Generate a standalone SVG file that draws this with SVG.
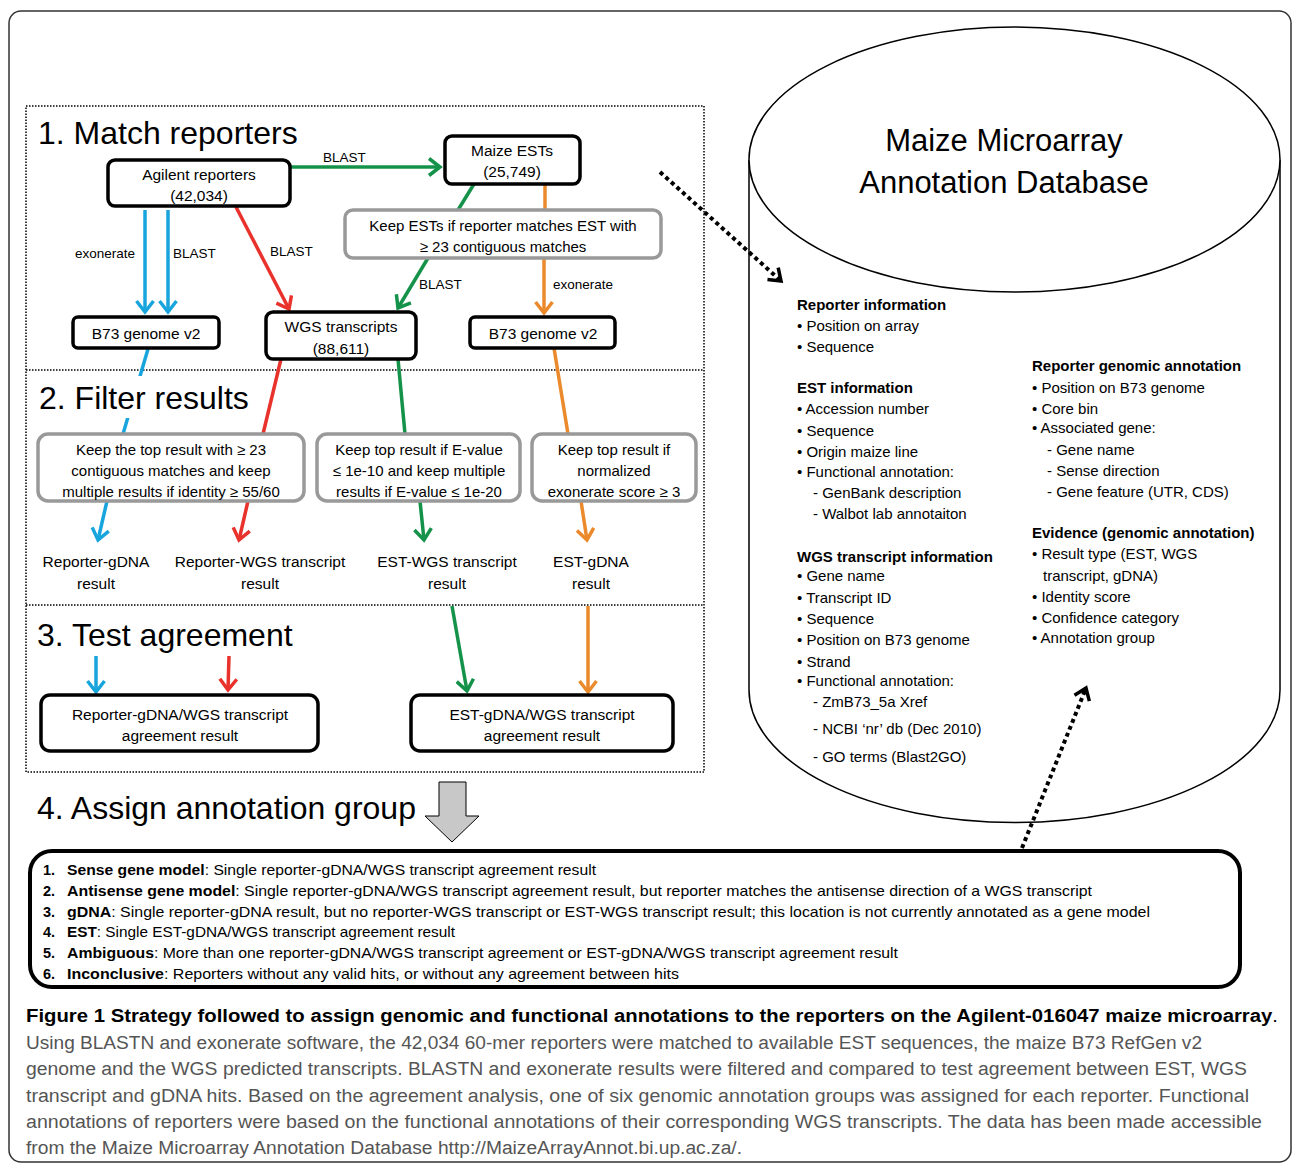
<svg xmlns="http://www.w3.org/2000/svg" width="1293" height="1166" viewBox="0 0 1293 1166">
<style>
text{font-family:"Liberation Sans",Arial,sans-serif;fill:#000}
.sec{font-size:32px}
.nt{font-size:15.5px;text-anchor:middle}
.ft{font-size:15px;text-anchor:middle}
.lb{font-size:13.5px}
.db{font-size:15px}
.dbh{font-size:15px;font-weight:bold}
.bx{font-size:14.5px}
.b{font-weight:bold}
.cap{font-size:18px;fill:#555}
.blk{fill:#fff;stroke:#000;stroke-width:3.5}
.gry{fill:#fff;stroke:#999;stroke-width:3.5}
.c{fill:none;stroke-width:3.5}
.blue{stroke:#18a5dd}
.red{stroke:#e8322b}
.green{stroke:#14924a}
.orange{stroke:#eb8a2c}
.dot{fill:none;stroke:#000;stroke-width:4;stroke-dasharray:4 3.5}
</style>
<defs>
<marker id="ab" viewBox="0 0 20 20" refX="13" refY="10" markerWidth="20" markerHeight="20" markerUnits="userSpaceOnUse" orient="auto"><path d="M2,1.5 L13,10 L2,18.5" fill="none" stroke="#18a5dd" stroke-width="3.5"/></marker>
<marker id="ar" viewBox="0 0 20 20" refX="13" refY="10" markerWidth="20" markerHeight="20" markerUnits="userSpaceOnUse" orient="auto"><path d="M2,1.5 L13,10 L2,18.5" fill="none" stroke="#e8322b" stroke-width="3.5"/></marker>
<marker id="ag" viewBox="0 0 20 20" refX="13" refY="10" markerWidth="20" markerHeight="20" markerUnits="userSpaceOnUse" orient="auto"><path d="M2,1.5 L13,10 L2,18.5" fill="none" stroke="#14924a" stroke-width="3.5"/></marker>
<marker id="ao" viewBox="0 0 20 20" refX="13" refY="10" markerWidth="20" markerHeight="20" markerUnits="userSpaceOnUse" orient="auto"><path d="M2,1.5 L13,10 L2,18.5" fill="none" stroke="#eb8a2c" stroke-width="3.5"/></marker>
<marker id="ak" viewBox="0 0 20 20" refX="13" refY="10" markerWidth="20" markerHeight="20" markerUnits="userSpaceOnUse" orient="auto"><path d="M2,2 L13,10 L2,18" fill="none" stroke="#000" stroke-width="3.5"/></marker>
</defs>
<rect x="0" y="0" width="1293" height="1166" fill="#fff"/>
<!-- outer frame -->
<rect x="9" y="11" width="1282" height="1151" rx="12" fill="none" stroke="#333" stroke-width="1.5"/>
<!-- dotted section box -->
<g id="sections" fill="none" stroke="#000" stroke-width="1.5" stroke-dasharray="1.5 1.5">
<rect x="26" y="106" width="678" height="666"/>
<line x1="26" y1="370" x2="704" y2="370"/>
<line x1="26" y1="605" x2="704" y2="605"/>
</g>
<!-- cylinder -->
<g id="database">
<path d="M749,160 L749,690 A265.5,132.5 0 0 0 1280,690 L1280,160" fill="#fff" stroke="#000" stroke-width="1.5"/>
<ellipse cx="1014.5" cy="159.5" rx="265.5" ry="132.5" fill="#fff" stroke="#000" stroke-width="1.5"/>
<text x="1004" y="151" font-size="31" text-anchor="middle">Maize Microarray</text>
<text x="1004" y="193" font-size="31" text-anchor="middle">Annotation Database</text>
<text class="dbh" x="797" y="310">Reporter information</text>
<text class="db" x="797" y="331">• Position on array</text>
<text class="db" x="797" y="352">• Sequence</text>
<text class="dbh" x="797" y="393">EST information</text>
<text class="db" x="797" y="414">• Accession number</text>
<text class="db" x="797" y="436">• Sequence</text>
<text class="db" x="797" y="457">• Origin maize line</text>
<text class="db" x="797" y="477">• Functional annotation:</text>
<text class="db" x="813" y="498">- GenBank description</text>
<text class="db" x="813" y="519">- Walbot lab annotaiton</text>
<text class="dbh" x="797" y="562">WGS transcript information</text>
<text class="db" x="797" y="581">• Gene name</text>
<text class="db" x="797" y="603">• Transcript ID</text>
<text class="db" x="797" y="624">• Sequence</text>
<text class="db" x="797" y="645">• Position on B73 genome</text>
<text class="db" x="797" y="667">• Strand</text>
<text class="db" x="797" y="686">• Functional annotation:</text>
<text class="db" x="813" y="707">- ZmB73_5a Xref</text>
<text class="db" x="813" y="734">- NCBI ‘nr’ db (Dec 2010)</text>
<text class="db" x="813" y="762">- GO terms (Blast2GO)</text>
<text class="dbh" x="1032" y="371">Reporter genomic annotation</text>
<text class="db" x="1032" y="393">• Position on B73 genome</text>
<text class="db" x="1032" y="414">• Core bin</text>
<text class="db" x="1032" y="433">• Associated gene:</text>
<text class="db" x="1047" y="455">- Gene name</text>
<text class="db" x="1047" y="476">- Sense direction</text>
<text class="db" x="1047" y="497">- Gene feature (UTR, CDS)</text>
<text class="dbh" x="1032" y="538">Evidence (genomic annotation)</text>
<text class="db" x="1032" y="559">• Result type (EST, WGS</text>
<text class="db" x="1043" y="581">transcript, gDNA)</text>
<text class="db" x="1032" y="602">• Identity score</text>
<text class="db" x="1032" y="623">• Confidence category</text>
<text class="db" x="1032" y="643">• Annotation group</text>
</g>
<!-- connectors -->
<g id="connectors">
<line class="c blue" x1="145" y1="210" x2="145" y2="312" marker-end="url(#ab)"/>
<line class="c blue" x1="168" y1="210" x2="168" y2="312" marker-end="url(#ab)"/>
<line class="c blue" x1="148" y1="349" x2="123" y2="434"/>
<line class="c blue" x1="107" y1="501" x2="98" y2="540" marker-end="url(#ab)"/>
<line class="c blue" x1="96" y1="656" x2="96" y2="692" marker-end="url(#ab)"/>
<line class="c red" x1="236" y1="207" x2="289" y2="309" marker-end="url(#ar)"/>
<line class="c red" x1="281" y1="359" x2="263" y2="434"/>
<line class="c red" x1="248" y1="501" x2="239" y2="540" marker-end="url(#ar)"/>
<line class="c red" x1="229" y1="656" x2="228" y2="690" marker-end="url(#ar)"/>
<line class="c green" x1="290" y1="167" x2="440" y2="167" marker-end="url(#ag)"/>
<line class="c green" x1="474" y1="184" x2="458" y2="210"/>
<line class="c green" x1="428" y1="258" x2="398" y2="308" marker-end="url(#ag)"/>
<line class="c green" x1="398" y1="359" x2="405" y2="434"/>
<line class="c green" x1="420" y1="501" x2="424" y2="540" marker-end="url(#ag)"/>
<line class="c green" x1="452" y1="606" x2="467" y2="691" marker-end="url(#ag)"/>
<line class="c orange" x1="545" y1="184" x2="545" y2="210"/>
<line class="c orange" x1="544" y1="258" x2="544" y2="313" marker-end="url(#ao)"/>
<line class="c orange" x1="554" y1="348" x2="568" y2="434"/>
<line class="c orange" x1="581" y1="501" x2="587" y2="540" marker-end="url(#ao)"/>
<line class="c orange" x1="588" y1="606" x2="588" y2="692" marker-end="url(#ao)"/>
<line class="dot" x1="660" y1="172" x2="781" y2="281" marker-end="url(#ak)"/>
<line class="dot" x1="1022" y1="848" x2="1086" y2="688" marker-end="url(#ak)"/>
<path d="M439,782 L466,782 L466,816 L479,816 L452,842 L425,816 L439,816 Z" fill="#c8c8c8" stroke="#000" stroke-width="1"/>
<text class="lb" x="75" y="258">exonerate</text>
<text class="lb" x="173" y="258">BLAST</text>
<text class="lb" x="270" y="256">BLAST</text>
<text class="lb" x="323" y="162">BLAST</text>
<text class="lb" x="419" y="289">BLAST</text>
<text class="lb" x="553" y="289">exonerate</text>
</g>
<!-- section titles -->
<g id="titles">
<text class="sec" x="38" y="144">1. Match reporters</text>
<rect x="36" y="376" width="216" height="42" fill="#fff"/>
<text class="sec" x="39" y="409">2. Filter results</text>
<text class="sec" x="37" y="646">3. Test agreement</text>
<text class="sec" x="37" y="819">4. Assign annotation group</text>
</g>
<!-- nodes -->
<g id="agilent"><rect class="blk" x="108" y="160" width="182" height="46" rx="7"/><text class="nt" x="199" y="180">Agilent reporters</text><text class="nt" x="199" y="201">(42,034)</text></g>
<g id="ests"><rect class="blk" x="445" y="136" width="135" height="48" rx="7"/><text class="nt" x="512" y="156">Maize ESTs</text><text class="nt" x="512" y="177">(25,749)</text></g>
<g id="estfilter"><rect class="gry" x="345" y="210" width="316" height="48" rx="8"/><text class="ft" x="503" y="231">Keep ESTs if reporter matches EST with</text><text class="ft" x="503" y="252">≥ 23 contiguous matches</text></g>
<g id="b73left"><rect class="blk" x="73" y="317" width="146" height="31" rx="5"/><text class="nt" x="146" y="339">B73 genome v2</text></g>
<g id="wgs"><rect class="blk" x="266" y="312" width="150" height="47" rx="7"/><text class="nt" x="341" y="332">WGS transcripts</text><text class="nt" x="341" y="354">(88,611)</text></g>
<g id="b73right"><rect class="blk" x="470" y="317" width="145" height="31" rx="5"/><text class="nt" x="543" y="339">B73 genome v2</text></g>
<g id="filter1"><rect class="gry" x="38" y="434" width="266" height="67" rx="10"/><text class="ft" x="171" y="455">Keep the top result with ≥ 23</text><text class="ft" x="171" y="476">contiguous matches and keep</text><text class="ft" x="171" y="497">multiple results if identity ≥ 55/60</text></g>
<g id="filter2"><rect class="gry" x="317" y="434" width="203" height="67" rx="10"/><text class="ft" x="419" y="455">Keep top result if E-value</text><text class="ft" x="419" y="476">≤ 1e-10 and keep multiple</text><text class="ft" x="419" y="497">results if E-value ≤ 1e-20</text></g>
<g id="filter3"><rect class="gry" x="532" y="434" width="164" height="67" rx="10"/><text class="ft" x="614" y="455">Keep top result if</text><text class="ft" x="614" y="476">normalized</text><text class="ft" x="614" y="497">exonerate score ≥ 3</text></g>
<g id="res1"><text class="nt" x="96" y="567">Reporter-gDNA</text><text class="nt" x="96" y="589">result</text></g>
<g id="res2"><text class="nt" x="260" y="567">Reporter-WGS transcript</text><text class="nt" x="260" y="589">result</text></g>
<g id="res3"><text class="nt" x="447" y="567">EST-WGS transcript</text><text class="nt" x="447" y="589">result</text></g>
<g id="res4"><text class="nt" x="591" y="567">EST-gDNA</text><text class="nt" x="591" y="589">result</text></g>
<g id="agree1"><rect class="blk" x="41" y="695" width="277" height="56" rx="9"/><text class="nt" x="180" y="720">Reporter-gDNA/WGS transcript</text><text class="nt" x="180" y="741">agreement result</text></g>
<g id="agree2"><rect class="blk" x="411" y="695" width="262" height="56" rx="9"/><text class="nt" x="542" y="720">EST-gDNA/WGS transcript</text><text class="nt" x="542" y="741">agreement result</text></g>
<!-- annotation groups -->
<g id="groups">
<rect x="30" y="851" width="1210" height="136" rx="22" fill="#fff" stroke="#000" stroke-width="4"/>
<text class="bx b" x="43" y="875">1.</text>
<text class="bx" x="67" y="875" textLength="529" lengthAdjust="spacingAndGlyphs"><tspan class="b">Sense gene model</tspan>: Single reporter-gDNA/WGS transcript agreement result</text>
<text class="bx b" x="43" y="896">2.</text>
<text class="bx" x="67" y="896" textLength="1025" lengthAdjust="spacingAndGlyphs"><tspan class="b">Antisense gene model</tspan>: Single reporter-gDNA/WGS transcript agreement result, but reporter matches the antisense direction of a WGS transcript</text>
<text class="bx b" x="43" y="917">3.</text>
<text class="bx" x="67" y="917" textLength="1083" lengthAdjust="spacingAndGlyphs"><tspan class="b">gDNA</tspan>: Single reporter-gDNA result, but no reporter-WGS transcript  or EST-WGS transcript result; this location is not currently annotated as a gene model</text>
<text class="bx b" x="43" y="937">4.</text>
<text class="bx" x="67" y="937" textLength="388" lengthAdjust="spacingAndGlyphs"><tspan class="b">EST</tspan>: Single EST-gDNA/WGS transcript agreement result</text>
<text class="bx b" x="43" y="958">5.</text>
<text class="bx" x="67" y="958" textLength="831" lengthAdjust="spacingAndGlyphs"><tspan class="b">Ambiguous</tspan>: More than one reporter-gDNA/WGS transcript agreement or EST-gDNA/WGS transcript agreement result</text>
<text class="bx b" x="43" y="979">6.</text>
<text class="bx" x="67" y="979" textLength="612" lengthAdjust="spacingAndGlyphs"><tspan class="b">Inconclusive</tspan>: Reporters without any valid hits, or without any agreement between hits</text>
</g>
<!-- caption -->
<g id="caption">
<text x="26" y="1022" font-size="18" textLength="1252" lengthAdjust="spacingAndGlyphs"><tspan font-weight="bold">Figure 1 Strategy followed to assign genomic and functional annotations to the reporters on the Agilent-016047 maize microarray</tspan>.</text>
<text class="cap" x="26" y="1049" textLength="1176" lengthAdjust="spacingAndGlyphs">Using BLASTN and exonerate software, the 42,034 60-mer reporters were matched to available EST sequences, the maize B73 RefGen v2</text>
<text class="cap" x="26" y="1075" textLength="1221" lengthAdjust="spacingAndGlyphs">genome and the WGS predicted transcripts. BLASTN and exonerate results were filtered and compared to test agreement between EST, WGS</text>
<text class="cap" x="26" y="1102" textLength="1223" lengthAdjust="spacingAndGlyphs">transcript and gDNA hits. Based on the agreement analysis, one of six genomic annotation groups was assigned for each reporter. Functional</text>
<text class="cap" x="26" y="1128" textLength="1236" lengthAdjust="spacingAndGlyphs">annotations of reporters were based on the functional annotations of their corresponding WGS transcripts. The data has been made accessible</text>
<text class="cap" x="26" y="1154" textLength="716" lengthAdjust="spacingAndGlyphs">from the Maize Microarray Annotation Database http://MaizeArrayAnnot.bi.up.ac.za/.</text>
</g>
</svg>
